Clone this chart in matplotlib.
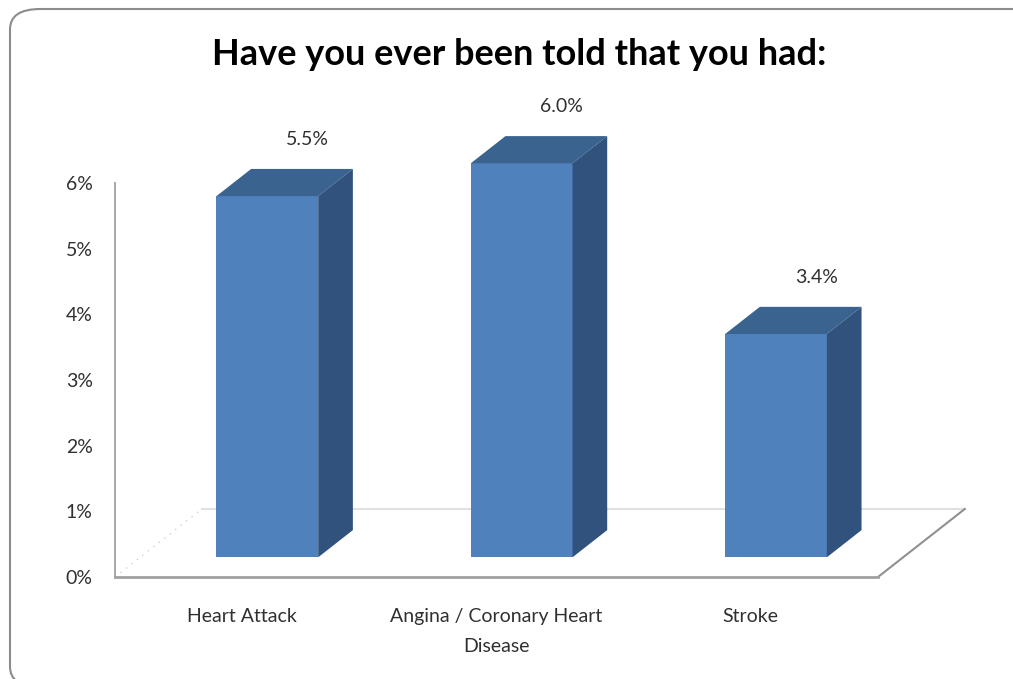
import numpy as np
import matplotlib.pyplot as plt
from matplotlib.patches import Polygon, FancyBboxPatch
from matplotlib.ticker import FuncFormatter

plt.rcParams['font.family'] = ['Lato', 'DejaVu Sans']

categories = ['Heart Attack', 'Angina / Coronary Heart\nDisease', 'Stroke']
values = [5.5, 6.0, 3.4]          # percent
value_labels = ['5.5%', '6.0%', '3.4%']
yticks = [0, 1, 2, 3, 4, 5, 6]

# pseudo-3d projection: one unit of depth moves this far in data units
DX, DY = 0.341, 1.035
D_FRONT, D_BACK = 0.29, 0.69
HALF_W = 0.2

FRONT = '#4f81bd'
TOP = '#3b6390'
SIDE = '#30527c'
TEXT = '#303030'

fig = plt.figure(figsize=(10.13, 6.79), dpi=100)
fig.patch.set_facecolor('white')

# outer rounded frame (runs off the right and bottom edges)
frame = FancyBboxPatch((10 / 1013, -8 / 679), 1040 / 1013, 678 / 679,
                       boxstyle='round,pad=0,rounding_size=0.03',
                       transform=fig.transFigure, facecolor='none',
                       edgecolor='#8c8c8c', linewidth=1.5)
fig.patches.append(frame)

ax = fig.add_axes([115 / 1013, 102 / 679, 763 / 1013, 394 / 679])
ax.set_xlim(-0.5, 2.5)
ax.set_ylim(0, 6)
ax.set_facecolor('none')

for s in ['top', 'right']:
    ax.spines[s].set_visible(False)
ax.spines['left'].set_color('#a0a0a0')
ax.spines['left'].set_linewidth(1.3)
ax.spines['bottom'].set_color('#a0a0a0')
ax.spines['bottom'].set_linewidth(2)

# floor outline
x0, x1 = -0.5, 2.5
ax.plot([x0 + DX, x1 + DX], [DY, DY], color='#e0e0e0', lw=1.5, zorder=1, clip_on=False)
ax.plot([x1, x1 + DX], [0, DY], color='#909090', lw=1.5, zorder=1, clip_on=False)
ax.plot([x0, x0 + DX], [0, DY], color='#d0d0d0', lw=1, ls=(0, (1, 4)), zorder=1, clip_on=False)

for i, v in enumerate(values):
    xl = i - HALF_W + D_FRONT * DX
    xr = i + HALF_W + D_FRONT * DX
    yb = D_FRONT * DY
    yt = yb + v
    ddx = (D_BACK - D_FRONT) * DX
    ddy = (D_BACK - D_FRONT) * DY
    front = Polygon([(xl, yb), (xr, yb), (xr, yt), (xl, yt)], closed=True,
                    facecolor=FRONT, edgecolor='none', zorder=3, clip_on=False)
    top = Polygon([(xl, yt), (xr, yt), (xr + ddx, yt + ddy), (xl + ddx, yt + ddy)],
                  closed=True, facecolor=TOP, edgecolor='none', zorder=3, clip_on=False)
    side = Polygon([(xr, yb), (xr + ddx, yb + ddy), (xr + ddx, yt + ddy), (xr, yt)],
                   closed=True, facecolor=SIDE, edgecolor='none', zorder=3, clip_on=False)
    for p in (front, top, side):
        ax.add_patch(p)
    ax.annotate(value_labels[i], (i + D_BACK * DX, yt + ddy), xytext=(4, 21),
                textcoords='offset points', ha='center', va='center',
                fontsize=14, color=TEXT, annotation_clip=False)

ax.set_yticks(yticks)
ax.yaxis.set_major_formatter(FuncFormatter(lambda v, p: '%d%%' % v))
ax.tick_params(axis='y', length=0, pad=16, labelsize=14, labelcolor=TEXT)
ax.set_xticks(range(len(categories)))
ax.set_xticklabels(categories, linespacing=1.95)
ax.tick_params(axis='x', length=0, pad=22, labelsize=14, labelcolor=TEXT)

fig.text(0.513, 0.919, 'Have you ever been told that you had:', ha='center', va='center',
         fontsize=26, fontweight='bold', color='black')

fig.savefig('out.png', dpi=100, facecolor='white')
